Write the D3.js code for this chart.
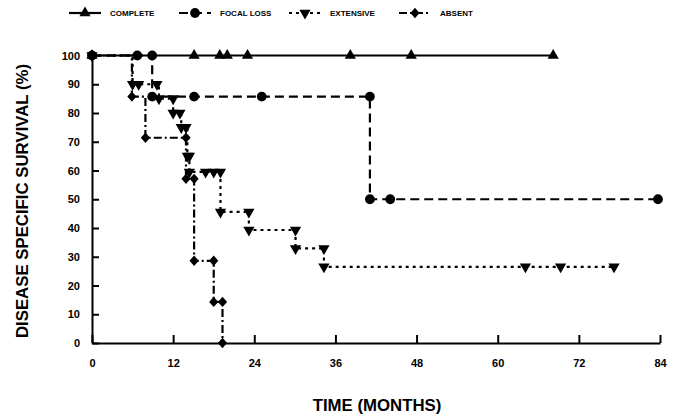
<!DOCTYPE html>
<html>
<head>
<meta charset="utf-8">
<script src="https://cdn.jsdelivr.net/npm/d3@7"></script>
<style>
  body { margin: 0; background: #fff; }
  svg { display: block; font-family: "Liberation Sans", Arial, sans-serif; font-weight: bold; }
</style>
</head>
<body>
<div id="chart"></div>
<script>
// Kaplan-Meier steps: [months, survival %]
const completePts = [[0, 100], [15.1, 100], [18.9, 100], [20.0, 100], [23.0, 100], [38.2, 100], [47.2, 100], [68.2, 100]];
const focalPts = [[0, 100], [6.7, 100], [8.9, 100], [8.9, 85.7], [15.1, 85.7], [25.1, 85.7], [41.1, 85.7], [41.1, 50], [44.1, 50], [83.7, 50]];
const extensivePts = [[0, 100], [6.0, 90], [6.9, 90], [9.6, 90], [9.9, 85], [12.0, 85], [12.0, 80], [13.0, 80], [13.2, 75], [13.9, 75],
    [14.1, 65], [14.4, 65], [14.4, 59.5], [16.8, 59.5], [18.0, 59.5], [19.0, 59.5], [19.0, 45.6], [23.2, 45.6], [23.2, 39.3],
    [30.1, 39.3], [30.1, 32.9], [34.3, 32.9], [34.3, 26.5], [64.1, 26.5], [69.3, 26.5], [77.2, 26.5]];
const absentPts = [[0, 100], [5.9, 85.7], [7.9, 71.4], [13.9, 71.4], [13.9, 57.1], [15.1, 57.1], [15.1, 28.6], [18.0, 28.6],
    [18.0, 14.3], [19.3, 14.3], [19.3, 0]];

const seriesNames = ["COMPLETE", "FOCAL LOSS", "EXTENSIVE", "ABSENT"];
const xTicks = [0, 12, 24, 36, 48, 60, 72, 84];
const yTicks = [0, 10, 20, 30, 40, 50, 60, 70, 80, 90, 100];

function drawChart() {
    const W = 678, H = 419;

    const svg = d3.select("#chart").append("svg")
        .attr("width", W)
        .attr("height", H);

    const x = d3.scaleLinear().domain([0, 84]).range([92, 660]);
    const y = d3.scaleLinear().domain([0, 100]).range([343, 55.5]);

    // simbol za svaku seriju
    const tri = d3.symbol().type(d3.symbolTriangle).size(55)();
    const circ = d3.symbol().type(d3.symbolCircle).size(75)();
    const diamond = "M0,-5.2L4.6,0L0,5.2L-4.6,0Z";

    const series = [
        { name: seriesNames[0], pts: completePts, dash: null, shape: tri, rot: 0 },
        { name: seriesNames[1], pts: focalPts, dash: "9,5", shape: circ, rot: 0 },
        { name: seriesNames[2], pts: extensivePts, dash: "3,4", shape: tri, rot: 180 },
        { name: seriesNames[3], pts: absentPts, dash: "8,3,2,3", shape: diamond, rot: 0 }
    ];

    // axes
    svg.append("g")
        .attr("class", "y-axis")
        .attr("transform", "translate(" + x(0) + ",0)")
        .call(d3.axisLeft(y).tickValues(yTicks).tickSizeInner(-7).tickSizeOuter(0).tickPadding(12))
        .call(g => g.selectAll("path, line").attr("stroke", "#000").attr("stroke-width", 2))
        .call(g => g.selectAll("text").attr("font-size", "11px").attr("font-weight", "bold").attr("fill", "#000"))
        .attr("font-family", null);

    svg.append("g")
        .attr("class", "x-axis")
        .attr("transform", "translate(0," + y(0) + ")")
        .call(d3.axisBottom(x).tickValues(xTicks).tickSizeInner(-8).tickSizeOuter(0).tickPadding(16))
        .call(g => g.selectAll("path, line").attr("stroke", "#000").attr("stroke-width", 2))
        .call(g => g.selectAll("text").attr("font-size", "11px").attr("font-weight", "bold").attr("fill", "#000"))
        .attr("font-family", null);

    const line = d3.line()
        .x(d => x(d[0]))
        .y(d => y(d[1]))
        .curve(d3.curveStepAfter);

    series.forEach(s => {
        svg.append("path")
            .datum(s.pts)
            .attr("fill", "none")
            .attr("stroke", "#000")
            .attr("stroke-width", 2.2)
            .attr("stroke-dasharray", s.dash)
            .attr("d", line);

        svg.selectAll(null)
            .data(s.pts)
            .enter().append("path")
            .attr("d", s.shape)
            .attr("fill", "#000")
            .attr("transform", d => "translate(" + x(d[0]) + "," + y(d[1]) + ") rotate(" + s.rot + ")");
    });

    // legend
    const leg = svg.selectAll(".legend")
        .data(series)
        .enter().append("g")
        .attr("class", "legend")
        .attr("transform", (d, i) => "translate(" + (69 + i * 110) + ",13)");

    leg.append("line")
        .attr("x1", 0).attr("x2", 32)
        .attr("stroke", "#000")
        .attr("stroke-width", 2.2)
        .attr("stroke-dasharray", d => d.dash);

    leg.append("path")
        .attr("d", d => d.shape)
        .attr("fill", "#000")
        .attr("transform", d => "translate(16,0) rotate(" + d.rot + ")");

    leg.append("text")
        .attr("x", 41)
        .attr("dy", "0.35em")
        .attr("font-size", "8px")
        .text(d => d.name);

    // axis titles
    svg.append("text")
        .attr("transform", "translate(22,201) rotate(-90)")
        .attr("text-anchor", "middle")
        .attr("dy", "0.35em")
        .attr("font-size", "16.8px")
        .text("DISEASE SPECIFIC SURVIVAL (%)");

    svg.append("text")
        .attr("x", 377)
        .attr("y", 405)
        .attr("dy", "0.35em")
        .attr("text-anchor", "middle")
        .attr("font-size", "16.8px")
        .text("TIME (MONTHS)");
}

drawChart();
</script>
</body>
</html>
